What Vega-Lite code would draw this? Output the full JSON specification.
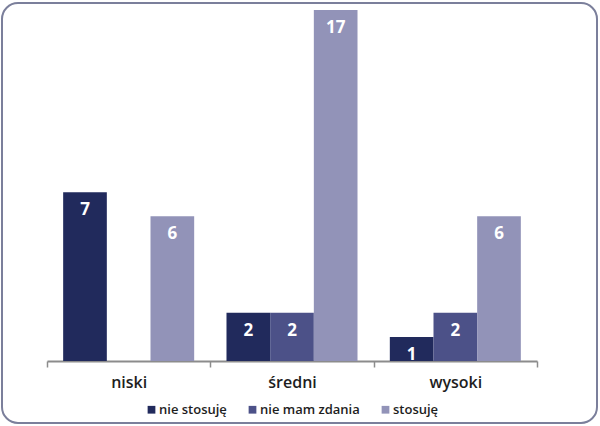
{
  "$schema": "https://vega.github.io/schema/vega-lite/v6.json",
  "width": 595,
  "height": 420,
  "autosize": {"type": "none"},
  "padding": {"left": 2, "top": 3, "right": 3, "bottom": 3},
  "background": "white",
  "config": {
    "view": {"stroke": "#7b7f9b", "strokeWidth": 2, "cornerRadius": 16},
    "font": "Open Sans"
  },
  "data": {
    "values": [
      {"poziom": "niski", "odpowiedz": "nie stosuję", "liczba": 7},
      {"poziom": "niski", "odpowiedz": "stosuję", "liczba": 6},
      {"poziom": "średni", "odpowiedz": "nie stosuję", "liczba": 2},
      {"poziom": "średni", "odpowiedz": "nie mam zdania", "liczba": 2},
      {"poziom": "średni", "odpowiedz": "stosuję", "liczba": 17},
      {"poziom": "wysoki", "odpowiedz": "nie stosuję", "liczba": 1},
      {"poziom": "wysoki", "odpowiedz": "nie mam zdania", "liczba": 2},
      {"poziom": "wysoki", "odpowiedz": "stosuję", "liczba": 6}
    ]
  },
  "encoding": {
    "x": {
      "field": "poziom",
      "type": "nominal",
      "sort": ["niski", "średni", "wysoki"],
      "scale": {"range": [45, 535], "paddingInner": 0, "paddingOuter": 0},
      "axis": {
        "title": null,
        "labelAngle": 0,
        "offset": -62,
        "domainColor": "#8c8c8c",
        "domainWidth": 2,
        "tickColor": "#8c8c8c",
        "tickWidth": 1.5,
        "tickSize": 6,
        "tickBand": "extent",
        "labelFontSize": 16,
        "labelFontWeight": 600,
        "labelColor": "#1e1e1e",
        "labelPadding": 7
      }
    },
    "xOffset": {
      "field": "odpowiedz",
      "type": "nominal",
      "sort": ["nie stosuję", "nie mam zdania", "stosuję"],
      "scale": {"paddingInner": 0, "paddingOuter": 0.37}
    },
    "y": {
      "field": "liczba",
      "type": "quantitative",
      "scale": {"domain": [0, 14.56], "range": [358, 7], "clamp": true, "nice": false, "zero": true},
      "axis": null
    }
  },
  "layer": [
    {
      "mark": {"type": "bar"},
      "encoding": {
        "color": {
          "field": "odpowiedz",
          "type": "nominal",
          "sort": ["nie stosuję", "nie mam zdania", "stosuję"],
          "scale": {"domain": ["nie stosuję", "nie mam zdania", "stosuję"], "range": ["#212a5c", "#4c5188", "#9293b8"]},
          "legend": {
            "title": null,
            "orient": "none",
            "direction": "horizontal",
            "legendX": 143,
            "legendY": 400,
            "symbolType": "square",
            "symbolSize": 60,
            "symbolStrokeWidth": 0,
            "labelFontSize": 13,
            "labelFontWeight": 600,
            "labelColor": "#1e1e1e",
            "labelOffset": 1,
            "columnPadding": 19
          }
        }
      }
    },
    {
      "mark": {"type": "text", "baseline": "top", "dy": 10, "color": "white", "fontSize": 17, "fontWeight": "bold"},
      "encoding": {"text": {"field": "liczba", "type": "quantitative"}}
    }
  ]
}
